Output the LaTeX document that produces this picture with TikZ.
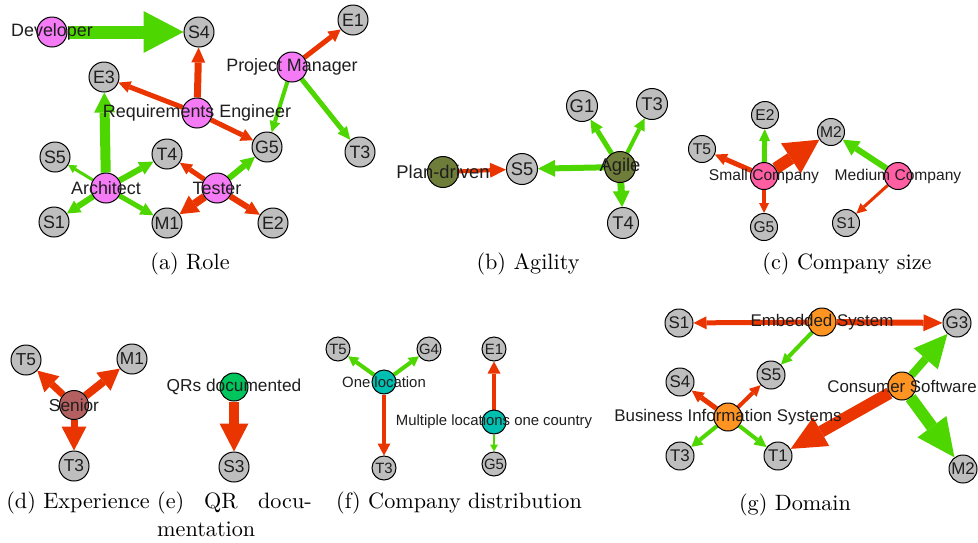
\documentclass[tikz,border=0pt]{standalone}
\usepackage{fontspec}
\newfontfamily\labfont{Liberation Sans}
\newfontfamily\capfont{lmroman10-regular.otf}
\usetikzlibrary{arrows.meta}
\pgfdeclarelayer{bg}
\pgfsetlayers{bg,main}
\definecolor{eg}{HTML}{4ED600}
\definecolor{er}{HTML}{EA3500}
\definecolor{ngray}{HTML}{BEBEBE}
\definecolor{nrole}{HTML}{F57AF5}
\definecolor{nagil}{HTML}{6E7D3A}
\definecolor{ncomp}{HTML}{FF5FA2}
\definecolor{nsen}{HTML}{B46060}
\definecolor{nqr}{HTML}{00C45C}
\definecolor{ndist}{HTML}{00BFB0}
\definecolor{ndom}{HTML}{FF9422}
\definecolor{txt}{HTML}{1E1E1E}
\tikzset{
  nd/.style={circle, draw=black, line width=1pt, inner sep=0pt, text=txt},
  lb/.style={inner sep=0pt, text=txt},
  fa/.style={font=\labfont\fontsize{17.9}{20}\selectfont},
  fb/.style={font=\labfont\fontsize{18.4}{20}\selectfont},
  fc/.style={font=\labfont\fontsize{15.6}{18}\selectfont},
  fd/.style={font=\labfont\fontsize{17.3}{20}\selectfont},
  ff/.style={font=\labfont\fontsize{14.9}{17}\selectfont},
  fg/.style={font=\labfont\fontsize{16.9}{19}\selectfont},
  captxt/.style={inner sep=0pt, font=\capfont\fontsize{22.2}{26}\selectfont},
}
\newcommand\E[6]{\draw[#3, line width=#4pt, -{Triangle[length=#5pt, width=#6pt, line width=0pt]}] (#1) -- (#2);}
\begin{document}
\begin{tikzpicture}[x=1pt, y=-1pt]
\useasboundingbox (0,0) rectangle (978,542);
% ---------- (a) Role
\begin{scope}[every node/.append style={fa}]
\node[nd, fill=ngray, minimum size=30pt] (s4a) at (199,32) {S4};
\node[nd, fill=ngray, minimum size=30pt] (e1a) at (353,20) {E1};
\node[nd, fill=ngray, minimum size=30pt] (e3a) at (104,77) {E3};
\node[nd, fill=ngray, minimum size=30pt] (g5a) at (267,147) {G5};
\node[nd, fill=ngray, minimum size=30pt] (t3a) at (360,152) {T3};
\node[nd, fill=ngray, minimum size=30pt] (s5a) at (55,157) {S5};
\node[nd, fill=ngray, minimum size=30pt] (t4a) at (167,154) {T4};
\node[nd, fill=ngray, minimum size=30pt] (s1a) at (54,222) {S1};
\node[nd, fill=ngray, minimum size=30pt] (m1a) at (167,223) {M1};
\node[nd, fill=ngray, minimum size=30pt] (e2a) at (273,223) {E2};
\node[nd, fill=nrole, minimum size=30pt] (dev) at (52,32) {};
\node[lb] (devL) at (dev) {Developer};
\node[nd, fill=nrole, minimum size=30pt] (pm) at (292,67) {};
\node[lb] (pmL) at (pm) {Project Manager};
\node[nd, fill=nrole, minimum size=30pt] (re) at (197,113) {};
\node[lb] (reL) at (re) {Requirements Engineer};
\node[nd, fill=nrole, minimum size=30pt] (ar) at (106,188) {};
\node[lb] (arL) at (ar) {Architect};
\node[nd, fill=nrole, minimum size=30pt] (te) at (217,188) {};
\node[lb] (teL) at (te) {Tester};
\end{scope}
\begin{pgfonlayer}{bg}
\E{dev}{s4a}{eg}{13}{40}{42}
\E{re}{s4a}{er}{7}{15}{14}
\E{re}{e3a}{er}{5}{12}{12}
\E{re}{g5a}{er}{5}{12}{13}
\E{pm}{e1a}{er}{5}{12}{13}
\E{pm}{g5a}{eg}{4}{11}{11}
\E{pm}{t3a}{eg}{5}{13}{12}
\E{ar}{e3a}{eg}{10}{20}{21}
\E{ar}{s5a}{eg}{3}{8}{9}
\E{ar}{t4a}{eg}{6}{14}{14}
\E{ar}{s1a}{eg}{6}{13}{14}
\E{ar}{m1a}{eg}{5}{13}{13}
\E{te}{t4a}{er}{5}{12}{12}
\E{te}{g5a}{eg}{6}{14}{14}
\E{te}{m1a}{er}{8}{18}{20}
\E{te}{e2a}{er}{6}{14}{14}
\end{pgfonlayer}
% ---------- (b) Agility
\begin{scope}[every node/.append style={fb}]
\node[nd, fill=ngray, minimum size=31pt] (s5b) at (522,169) {S5};
\node[nd, fill=ngray, minimum size=31pt] (g1b) at (582,106) {G1};
\node[nd, fill=ngray, minimum size=31pt] (t3b) at (652,104) {T3};
\node[nd, fill=ngray, minimum size=31pt] (t4b) at (623,223) {T4};
\node[nd, fill=nagil, minimum size=31pt] (pd) at (443,172) {};
\node[lb] (pdL) at (pd) {Plan-driven};
\node[nd, fill=nagil, minimum size=31pt] (ag) at (620,167) {};
\node[lb] (agL) at (ag) {Agile};
\end{scope}
\begin{pgfonlayer}{bg}
\E{pd}{s5b}{er}{4}{16}{15}
\E{ag}{s5b}{eg}{6}{17}{17}
\E{ag}{g1b}{eg}{5}{13}{13}
\E{ag}{t3b}{eg}{4}{12}{12}
\E{ag}{t4b}{eg}{7}{16}{17}
\end{pgfonlayer}
% ---------- (c) Company size
\begin{scope}[every node/.append style={fc}]
\node[nd, fill=ngray, minimum size=27pt] (e2c) at (765,115) {E2};
\node[nd, fill=ngray, minimum size=27pt] (m2c) at (831,132) {M2};
\node[nd, fill=ngray, minimum size=27pt] (t5c) at (702,149) {T5};
\node[nd, fill=ngray, minimum size=27pt] (g5c) at (764,227) {G5};
\node[nd, fill=ngray, minimum size=27pt] (s1c) at (846,223) {S1};
\node[nd, fill=ncomp, minimum size=27pt] (sm) at (764,176) {};
\node[lb] (smL) at (sm) {Small Company};
\node[nd, fill=ncomp, minimum size=27pt] (md) at (898,176) {};
\node[lb] (mdL) at (md) {Medium Company};
\end{scope}
\begin{pgfonlayer}{bg}
\E{sm}{e2c}{eg}{5}{12}{11}
\E{sm}{t5c}{er}{5}{12}{12}
\E{sm}{m2c}{er}{12}{34}{36}
\E{sm}{g5c}{er}{4}{10}{10}
\E{md}{m2c}{eg}{6}{16}{17}
\E{md}{s1c}{er}{3}{10}{10}
\end{pgfonlayer}
% ---------- (d) Experience
\begin{scope}[every node/.append style={fd}]
\node[nd, fill=ngray, minimum size=30pt] (t5d) at (26,360) {T5};
\node[nd, fill=ngray, minimum size=30pt] (m1d) at (132,359) {M1};
\node[nd, fill=ngray, minimum size=30pt] (t3d) at (74,466) {T3};
\node[nd, fill=nsen, minimum size=29pt] (sn) at (74,405) {};
\node[lb] (snL) at (sn) {Senior};
\end{scope}
\begin{pgfonlayer}{bg}
\E{sn}{t5d}{er}{7}{20}{22}
\E{sn}{m1d}{er}{8}{21}{23}
\E{sn}{t3d}{er}{7}{24}{25}
\end{pgfonlayer}
% ---------- (e) QR documentation
\begin{scope}[every node/.append style={fd}]
\node[nd, fill=ngray, minimum size=30pt] (s3e) at (234,467) {S3};
\node[nd, fill=nqr, minimum size=28pt] (qr) at (234,387) {};
\node[lb] (qrL) at (qr) {QRs documented};
\end{scope}
\begin{pgfonlayer}{bg}
\E{qr}{s3e}{er}{10}{28}{29}
\end{pgfonlayer}
% ---------- (f) Company distribution
\begin{scope}[every node/.append style={ff}]
\node[nd, fill=ngray, minimum size=24pt] (t5f) at (338,349) {T5};
\node[nd, fill=ngray, minimum size=24pt] (g4f) at (429,349) {G4};
\node[nd, fill=ngray, minimum size=24pt] (t3f) at (384,468) {T3};
\node[nd, fill=ngray, minimum size=24pt] (e1f) at (494,349) {E1};
\node[nd, fill=ngray, minimum size=24pt] (g5f) at (494,464) {G5};
\node[nd, fill=ndist, minimum size=24pt] (ol) at (384,382) {};
\node[lb] (olL) at (ol) {One location};
\node[nd, fill=ndist, minimum size=24pt] (ml) at (494,422) {};
\node[lb] (mlL) at (ml) {Multiple locations one country};
\end{scope}
\begin{pgfonlayer}{bg}
\E{ol}{t5f}{eg}{4}{10}{11}
\E{ol}{g4f}{eg}{4}{10}{11}
\E{ol}{t3f}{er}{4}{12}{13}
\E{ml}{e1f}{er}{4}{12}{13}
\E{ml}{g5f}{eg}{2}{7}{8}
\end{pgfonlayer}
% ---------- (g) Domain
\begin{scope}[every node/.append style={fg}]
\node[nd, fill=ngray, minimum size=28pt] (s1g) at (679,323) {S1};
\node[nd, fill=ngray, minimum size=28pt] (g3g) at (957,323) {G3};
\node[nd, fill=ngray, minimum size=28pt] (s5g) at (771,375) {S5};
\node[nd, fill=ngray, minimum size=28pt] (s4g) at (680,382) {S4};
\node[nd, fill=ngray, minimum size=28pt] (t3g) at (680,456) {T3};
\node[nd, fill=ngray, minimum size=28pt] (t1g) at (778,456) {T1};
\node[nd, fill=ngray, minimum size=28pt] (m2g) at (963,469) {M2};
\node[nd, fill=ndom, minimum size=28pt] (em) at (822,322) {};
\node[lb] (emL) at (em) {Embedded System};
\node[nd, fill=ndom, minimum size=28pt] (cs) at (902,386) {};
\node[lb] (csL) at (cs) {Consumer Software};
\node[nd, fill=ndom, minimum size=28pt] (bis) at (728,417) {};
\node[lb] (bisL) at (bis) {Business Information Systems};
\end{scope}
\begin{pgfonlayer}{bg}
\E{em}{s1g}{er}{5}{13}{13}
\E{em}{g3g}{er}{6}{19}{17}
\E{em}{s5g}{eg}{4}{11}{11}
\E{cs}{g3g}{eg}{8}{33}{32}
\E{cs}{t1g}{er}{12}{35}{33}
\E{cs}{m2g}{eg}{12}{38}{36}
\E{bis}{s4g}{er}{5}{12}{12}
\E{bis}{s5g}{er}{4}{11}{11}
\E{bis}{t3g}{eg}{4}{11}{12}
\E{bis}{t1g}{eg}{4}{12}{12}
\end{pgfonlayer}
% ---------- captions
\node[captxt] (capa) at (190,264) {(a) Role};
\node[captxt] (capb) at (528,264) {(b) Agility};
\node[captxt] (capc) at (847,264) {(c) Company size};
\node[captxt] (capd) at (78,503) {(d) Experience};
\node[captxt, anchor=base west] (cape1) at (157,508) {(e)};
\node[captxt, anchor=base west] (cape2) at (204,508) {QR};
\node[captxt, anchor=base east] (cape3) at (312,508) {docu-};
\node[captxt, anchor=base west] (cape4) at (157,536) {mentation};
\node[captxt] (capf) at (459,503) {(f) Company distribution};
\node[captxt] (capg) at (795,505) {(g) Domain};
\end{tikzpicture}
\end{document}
